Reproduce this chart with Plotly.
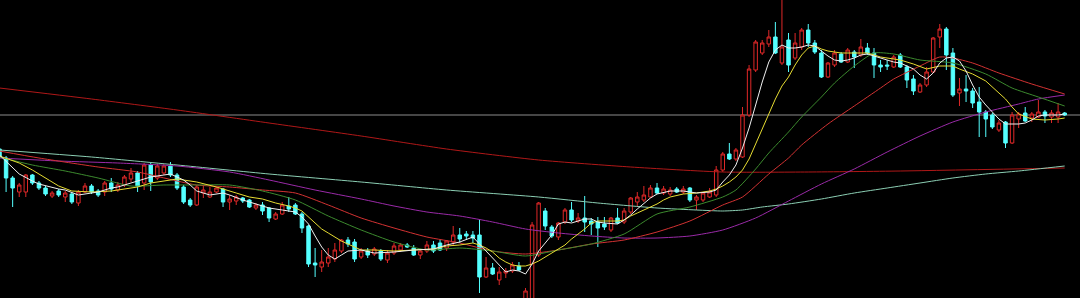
import plotly.graph_objects as go

# ---- daily candles (index = trading day) ----
opens = [151, 142, 122, 108, 108, 125, 117, 112, 104, 109, 103, 106, 97, 108, 114, 109, 108, 117, 110, 115,
         121, 127, 117, 135, 122, 127, 134, 125, 113, 100, 95, 107, 103, 108, 111, 98, 99, 102, 100, 92,
         95, 92, 81, 86, 94, 95, 86, 74, 37, 33, 37, 41, 49, 60, 58, 43, 49, 46, 49, 40,
         47, 50, 55, 52, 45, 49, 55, 57, 52, 58, 65, 66, 65, 65, 23, 32, 20, 27, 29, 34,
         -2, 0, 45, 89, 73, 63, 78, 90, 79, 82, 79, 78, 76, 70, 82, 78, 88, 98, 100, 103,
         112, 107, 106, 111, 108, 112, 100, 100, 103, 105, 130, 146, 141, 143, 185, 230, 247, 256, 263, 237,
         260, 242, 253, 270, 257, 247, 223, 235, 246, 238, 248, 245, 252, 247, 235, 235, 233, 245, 233, 221,
         208, 215, 228, 263, 271, 247, 207, 211, 209, 198, 188, 185, 170, 178, 157, 181, 187, 182, 183, 188,
         183, 183, 187]
highs = [153, 144, 124, 117, 126, 126, 119, 114, 109, 111, 109, 108, 110, 117, 116, 111, 119, 122, 118, 125,
         132, 129, 137, 137, 136, 136, 138, 127, 115, 102, 115, 115, 113, 113, 112, 105, 105, 103, 101, 97,
         98, 93, 88, 98, 103, 97, 88, 75, 52, 50, 52, 57, 61, 63, 61, 52, 52, 53, 51, 50,
         57, 57, 57, 55, 50, 59, 59, 60, 60, 74, 72, 69, 69, 81, 43, 37, 33, 32, 38, 38,
         12, 78, 98, 92, 75, 78, 92, 98, 87, 104, 82, 83, 83, 83, 92, 92, 103, 108, 114, 115,
         117, 114, 113, 113, 114, 113, 105, 108, 112, 134, 148, 157, 152, 193, 235, 260, 260, 270, 278, 302,
         267, 267, 272, 276, 260, 250, 238, 250, 248, 252, 250, 261, 257, 252, 240, 240, 245, 247, 235, 225,
         217, 233, 263, 276, 273, 252, 222, 225, 212, 213, 190, 187, 180, 179, 188, 188, 193, 188, 200, 190,
         190, 197, 188]
lows = [140, 108, 93, 103, 103, 115, 110, 104, 102, 103, 98, 96, 94, 107, 106, 103, 104, 108, 108, 113,
        118, 108, 110, 109, 120, 125, 123, 110, 96, 93, 94, 102, 102, 107, 93, 90, 95, 97, 92, 90,
        85, 78, 80, 85, 88, 85, 67, 33, 23, 28, 33, 38, 47, 53, 38, 41, 42, 44, 39, 37,
        45, 48, 52, 44, 41, 47, 47, 49, 49, 55, 57, 60, 57, 7, 22, 25, 15, 22, 27, 29,
        -6, -2, 43, 70, 62, 60, 76, 78, 77, 68, 65, 53, 70, 68, 76, 76, 86, 93, 98, 102,
        106, 105, 104, 107, 106, 98, 90, 98, 102, 103, 128, 140, 139, 142, 183, 228, 245, 253, 246, 235,
        228, 240, 250, 253, 246, 222, 222, 233, 237, 237, 232, 243, 245, 222, 228, 230, 232, 232, 212, 205,
        207, 213, 227, 252, 230, 203, 194, 198, 192, 163, 163, 171, 168, 152, 156, 172, 178, 178, 182, 177,
        177, 177, 184]
closes = [143, 122, 112, 115, 125, 117, 112, 106, 107, 105, 107, 98, 108, 114, 108, 105, 117, 111, 115, 123,
          127, 114, 135, 118, 134, 134, 125, 112, 98, 95, 113, 110, 108, 112, 98, 101, 103, 99, 93, 95,
          89, 82, 86, 95, 91, 86, 72, 36, 35, 38, 43, 50, 60, 56, 41, 49, 45, 51, 41, 47,
          54, 55, 53, 45, 49, 55, 49, 50, 59, 65, 61, 64, 62, 23, 32, 26, 28, 29, 35, 30,
          9, 75, 97, 74, 64, 77, 90, 80, 82, 78, 76, 72, 73, 82, 77, 89, 102, 103, 105, 112,
          107, 111, 110, 108, 111, 100, 103, 107, 108, 130, 146, 141, 150, 185, 231, 258, 257, 263, 247, 253,
          235, 257, 270, 257, 248, 223, 237, 247, 238, 250, 243, 253, 247, 235, 233, 234, 243, 233, 220, 209,
          215, 228, 262, 271, 245, 205, 211, 209, 197, 188, 181, 173, 177, 157, 185, 186, 179, 186, 188, 184,
          187, 188, 185]
days = list(range(len(closes)))

# ---- moving averages (day index, level) ----
ma5_day = [0, 2, 3, 5, 6, 9, 10, 12, 14, 15, 17, 18, 19, 21, 23, 25, 26, 27, 28, 29,
           30, 31, 32, 34, 35, 37, 39, 41, 43, 45, 46, 47, 48, 49, 50, 51, 52, 53, 55, 57,
           60, 63, 66, 68, 70, 72, 73, 74, 75, 76, 77, 78, 79, 80, 81, 82, 83, 84, 85, 86,
           87, 89, 90, 91, 92, 94, 95, 96, 97, 98, 99, 100, 102, 104, 106, 108, 109, 110, 111, 112,
           113, 114, 115, 116, 117, 118, 119, 120, 121, 122, 123, 124, 125, 126, 127, 128, 129, 130, 131, 132,
           133, 134, 135, 136, 137, 138, 139, 140, 141, 142, 143, 144, 145, 146, 147, 148, 149, 150, 151, 152,
           153, 154, 155, 156, 157, 158, 159, 160, 161, 162]
ma5_val = [145, 133, 126, 119, 116, 111, 110, 105, 107, 108, 112, 113, 115, 119, 123, 125, 126, 123, 120, 115,
           109, 107, 105, 107, 105, 100, 96, 92, 90, 88, 83, 76, 64, 53, 45, 41, 45, 49, 50, 47,
           48, 50, 51, 55, 58, 63, 56, 49, 42, 35, 28, 30, 29, 26, 36, 49, 57, 65, 76, 78,
           77, 81, 81, 78, 77, 76, 80, 85, 91, 97, 102, 106, 109, 109, 107, 108, 110, 118, 125, 135,
           152, 172, 195, 218, 238, 250, 255, 252, 252, 253, 255, 254, 249, 244, 240, 239, 240, 242, 245, 246,
           244, 242, 240, 238, 237, 234, 231, 225, 221, 227, 237, 242, 243, 239, 229, 215, 203, 195, 188, 181,
           176, 176, 176, 177, 180, 184, 185, 185, 185, 186]

ma10_day = [0, 3, 5, 6, 9, 11, 14, 17, 19, 21, 23, 25, 27, 30, 33, 36, 38, 40, 42, 44,
            45, 46, 47, 48, 49, 50, 51, 52, 53, 54, 55, 57, 60, 63, 66, 68, 70, 72, 73, 74,
            75, 76, 77, 78, 79, 80, 81, 82, 83, 84, 85, 86, 87, 88, 89, 90, 91, 92, 94, 95,
            96, 97, 98, 99, 100, 101, 102, 104, 106, 108, 109, 110, 111, 112, 113, 114, 115, 116, 117, 118,
            119, 120, 121, 122, 123, 124, 125, 126, 128, 130, 132, 134, 136, 137, 139, 141, 143, 145, 146, 148,
            150, 151, 152, 153, 154, 155, 157, 159, 161, 162]
ma10_val = [144, 137, 130, 126, 114, 109, 108, 109, 111, 113, 117, 119, 121, 118, 113, 107, 103, 101, 97, 94,
            92, 89, 83, 76, 71, 67, 63, 59, 56, 53, 50, 50, 49, 50, 51, 54, 55, 57, 55, 52,
            48, 42, 38, 35, 34, 34, 36, 39, 43, 47, 51, 55, 61, 66, 71, 77, 79, 79, 79, 80,
            84, 87, 90, 93, 96, 100, 103, 106, 107, 109, 111, 114, 118, 123, 130, 141, 156, 171, 187, 201,
            214, 223, 235, 245, 252, 254, 251, 249, 247, 247, 247, 243, 241, 240, 236, 231, 234, 234, 231, 226,
            219, 213, 208, 201, 193, 186, 181, 180, 181, 182]

ma20_day = [0, 5, 10, 15, 20, 25, 30, 35, 40, 45, 50, 55, 60, 65, 70, 75, 80, 85, 90, 95,
            100, 105, 110, 112, 115, 117, 120, 122, 125, 127, 130, 133, 136, 140, 145, 150, 154, 158, 162]
ma20_val = [143, 135, 129, 122, 114, 115, 115, 115, 109, 100, 84, 70, 58, 50, 52, 49, 44, 50, 56, 66,
            86, 93, 103, 110, 131, 147, 168, 183, 203, 217, 234, 247, 246, 240, 237, 226, 212, 203, 194]

ma30_day = [0, 6, 15, 21, 27, 30, 35, 40, 45, 50, 55, 60, 65, 70, 75, 80, 85, 90, 95, 100,
            105, 110, 113, 117, 120, 122, 126, 130, 134, 136, 140, 143, 145, 148, 152, 157, 162]
ma30_val = [149, 142, 133, 128, 119, 115, 113, 110, 107, 95, 82, 72, 63, 57, 49, 46, 50, 56, 60, 68,
            79, 95, 103, 126, 142, 155, 176, 194, 212, 221, 234, 243, 242, 237, 227, 216, 206]

ma60_day = [0, 9, 18, 27, 35, 41, 48, 55, 60, 65, 70, 75, 80, 85, 90, 95, 100, 105, 110, 115,
            120, 125, 130, 135, 140, 145, 150, 155, 158, 162]
ma60_val = [142, 139, 137, 134, 128, 120, 110, 101, 94, 88, 84, 78, 71, 67, 64, 62, 62, 64, 70, 82,
            99, 116, 131, 148, 164, 178, 188, 196, 201, 205]

ma120_day = [0, 14, 27, 41, 55, 68, 82, 91, 100, 106, 110, 113, 116, 120, 125, 130, 135, 140, 145, 150,
             155, 162]
ma120_val = [150, 143, 135, 126, 118, 110, 103, 97, 92, 90, 89, 90, 93, 96, 101, 107, 112, 117, 122, 126,
             129, 134]

ma250_day = [0, 14, 27, 41, 55, 68, 82, 96, 110, 123, 137, 162]
ma250_val = [212, 201, 190, 177, 164, 151, 140, 133, 128, 128, 129, 132]

RISE = "#e02828"
FALL = "#54ffff"

fig = go.Figure()

fig.add_trace(go.Candlestick(
    x=days, open=opens, high=highs, low=lows, close=closes,
    increasing=dict(line=dict(color=RISE, width=1), fillcolor="#000000"),
    decreasing=dict(line=dict(color=FALL, width=1), fillcolor=FALL),
    whiskerwidth=0, hoverinfo="skip", showlegend=False,
))

averages = [
    (ma250_day, ma250_val, "#b01818", "spline"),
    (ma120_day, ma120_val, "#8ccfb4", "spline"),
    (ma60_day, ma60_val, "#9a2aa8", "spline"),
    (ma30_day, ma30_val, "#d23232", "spline"),
    (ma20_day, ma20_val, "#3c8a2e", "spline"),
    (ma10_day, ma10_val, "#e6dc32", "linear"),
    (ma5_day, ma5_val, "#f0f0f0", "linear"),
]
for xs, ys, color, shape in averages:
    fig.add_trace(go.Scatter(
        x=xs, y=ys, mode="lines",
        line=dict(color=color, width=1, shape=shape, smoothing=0.6 if shape == "spline" else None),
        hoverinfo="skip", showlegend=False,
    ))

# last price marker line
fig.add_hline(y=closes[-1], line_color="#8c8c8c", line_width=1, layer="below")

fig.update_layout(
    width=1080, height=298,
    margin=dict(l=0, r=0, t=0, b=0, pad=0),
    paper_bgcolor="#000000", plot_bgcolor="#000000",
    boxgap=0.25,
    showlegend=False,
    xaxis=dict(visible=False, range=[0.076, 164.33], rangeslider=dict(visible=False), fixedrange=True),
    yaxis=dict(visible=False, range=[2, 300], fixedrange=True),
)

fig.write_html("out.html")
